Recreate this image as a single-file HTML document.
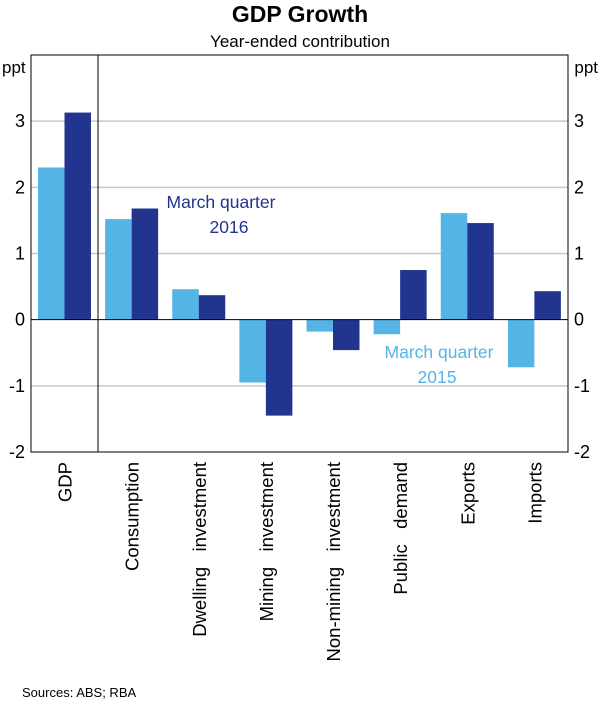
<!DOCTYPE html>
<html><head><meta charset="utf-8"><style>
body{margin:0;background:#fff;font-family:"Liberation Sans",Arial,sans-serif}
svg text{font-family:"Liberation Sans",Arial,sans-serif}
</style></head><body>
<svg id="c" width="600" height="704" viewBox="0 0 600 704">
<text x="300" y="22" text-anchor="middle" font-size="23" font-weight="bold">GDP Growth</text>
<text x="300" y="47" text-anchor="middle" font-size="17">Year-ended contribution</text>
<text x="2" y="73" font-size="17">ppt</text>
<text x="598" y="73" text-anchor="end" font-size="17">ppt</text>
<g id="grid"></g><g id="bars"></g><g id="labels"></g>
<rect x="31" y="55" width="537" height="397" fill="none" stroke="#000" stroke-width="1"/>
<line x1="98" y1="55" x2="98" y2="452" stroke="#000" stroke-width="1"/>
<text x="221" y="208" text-anchor="middle" font-size="17.5" fill="#21358f"><tspan x="221">March quarter</tspan><tspan x="229" dy="25">2016</tspan></text>
<text x="439" y="358" text-anchor="middle" font-size="17.5" fill="#55b4e6"><tspan x="439">March quarter</tspan><tspan x="437" dy="25">2015</tspan></text>
<text x="22" y="697" font-size="13">Sources:   ABS; RBA</text>
</svg>
<script>
const categories=["GDP","Consumption","Dwelling   investment","Mining   investment","Non-mining   investment","Public   demand","Exports","Imports"];
const mar2015=[2.3,1.52,0.46,-0.95,-0.18,-0.22,1.61,-0.72];
const mar2016=[3.13,1.68,0.37,-1.45,-0.46,0.75,1.46,0.43];
const ticks=[3,2,1,0,-1,-2];
const NS="http://www.w3.org/2000/svg";
const L=31,R=568,T=55,B=452,ymin=-2,ymax=4;
const y=v=>T+(ymax-v)/(ymax-ymin)*(B-T);
const cw=(R-L)/categories.length;
const x=i=>L+i*cw;
function mk(t,a,p){const e=document.createElementNS(NS,t);for(const k in a)e.setAttribute(k,a[k]);p.appendChild(e);return e;}
const g=document.getElementById('grid'),b=document.getElementById('bars'),lb=document.getElementById('labels');
ticks.forEach(t=>{
 if(t!==0&&t!==-2){const l=mk('line',{x1:L,x2:R,y1:y(t),y2:y(t),stroke:'#c8c8c8','stroke-width':1.5},g);
 
 }
 const a=mk('text',{x:L-6,y:y(t)+6,'text-anchor':'end','font-size':18},lb);a.textContent=t;
 
 
 const c=mk('text',{x:R+6,y:y(t)+6,'font-size':18},lb);c.textContent=t;
 
 
});
const bw=26.5;
categories.forEach((cat,i)=>{
 [[mar2015[i],'#55b4e6',7],[mar2016[i],'#21358f',7+bw]].forEach(([v,col,off],j)=>{
  const r=mk('rect',{x:x(i)+off,y:Math.min(y(v),y(0)),width:bw,height:Math.abs(y(v)-y(0)),fill:col},b);
  
  
 });
 const cx=x(i)+cw/2+7;
 const t=mk('text',{x:cx,y:462,'text-anchor':'end','font-size':18.5,transform:`rotate(-90 ${cx} 462)`},lb);
 t.style.whiteSpace='pre';
 t.textContent=cat;
 
 
});
const z=mk('line',{x1:L,x2:R,y1:y(0),y2:y(0),stroke:'#000','stroke-width':1},lb);


</script>
</body></html>
